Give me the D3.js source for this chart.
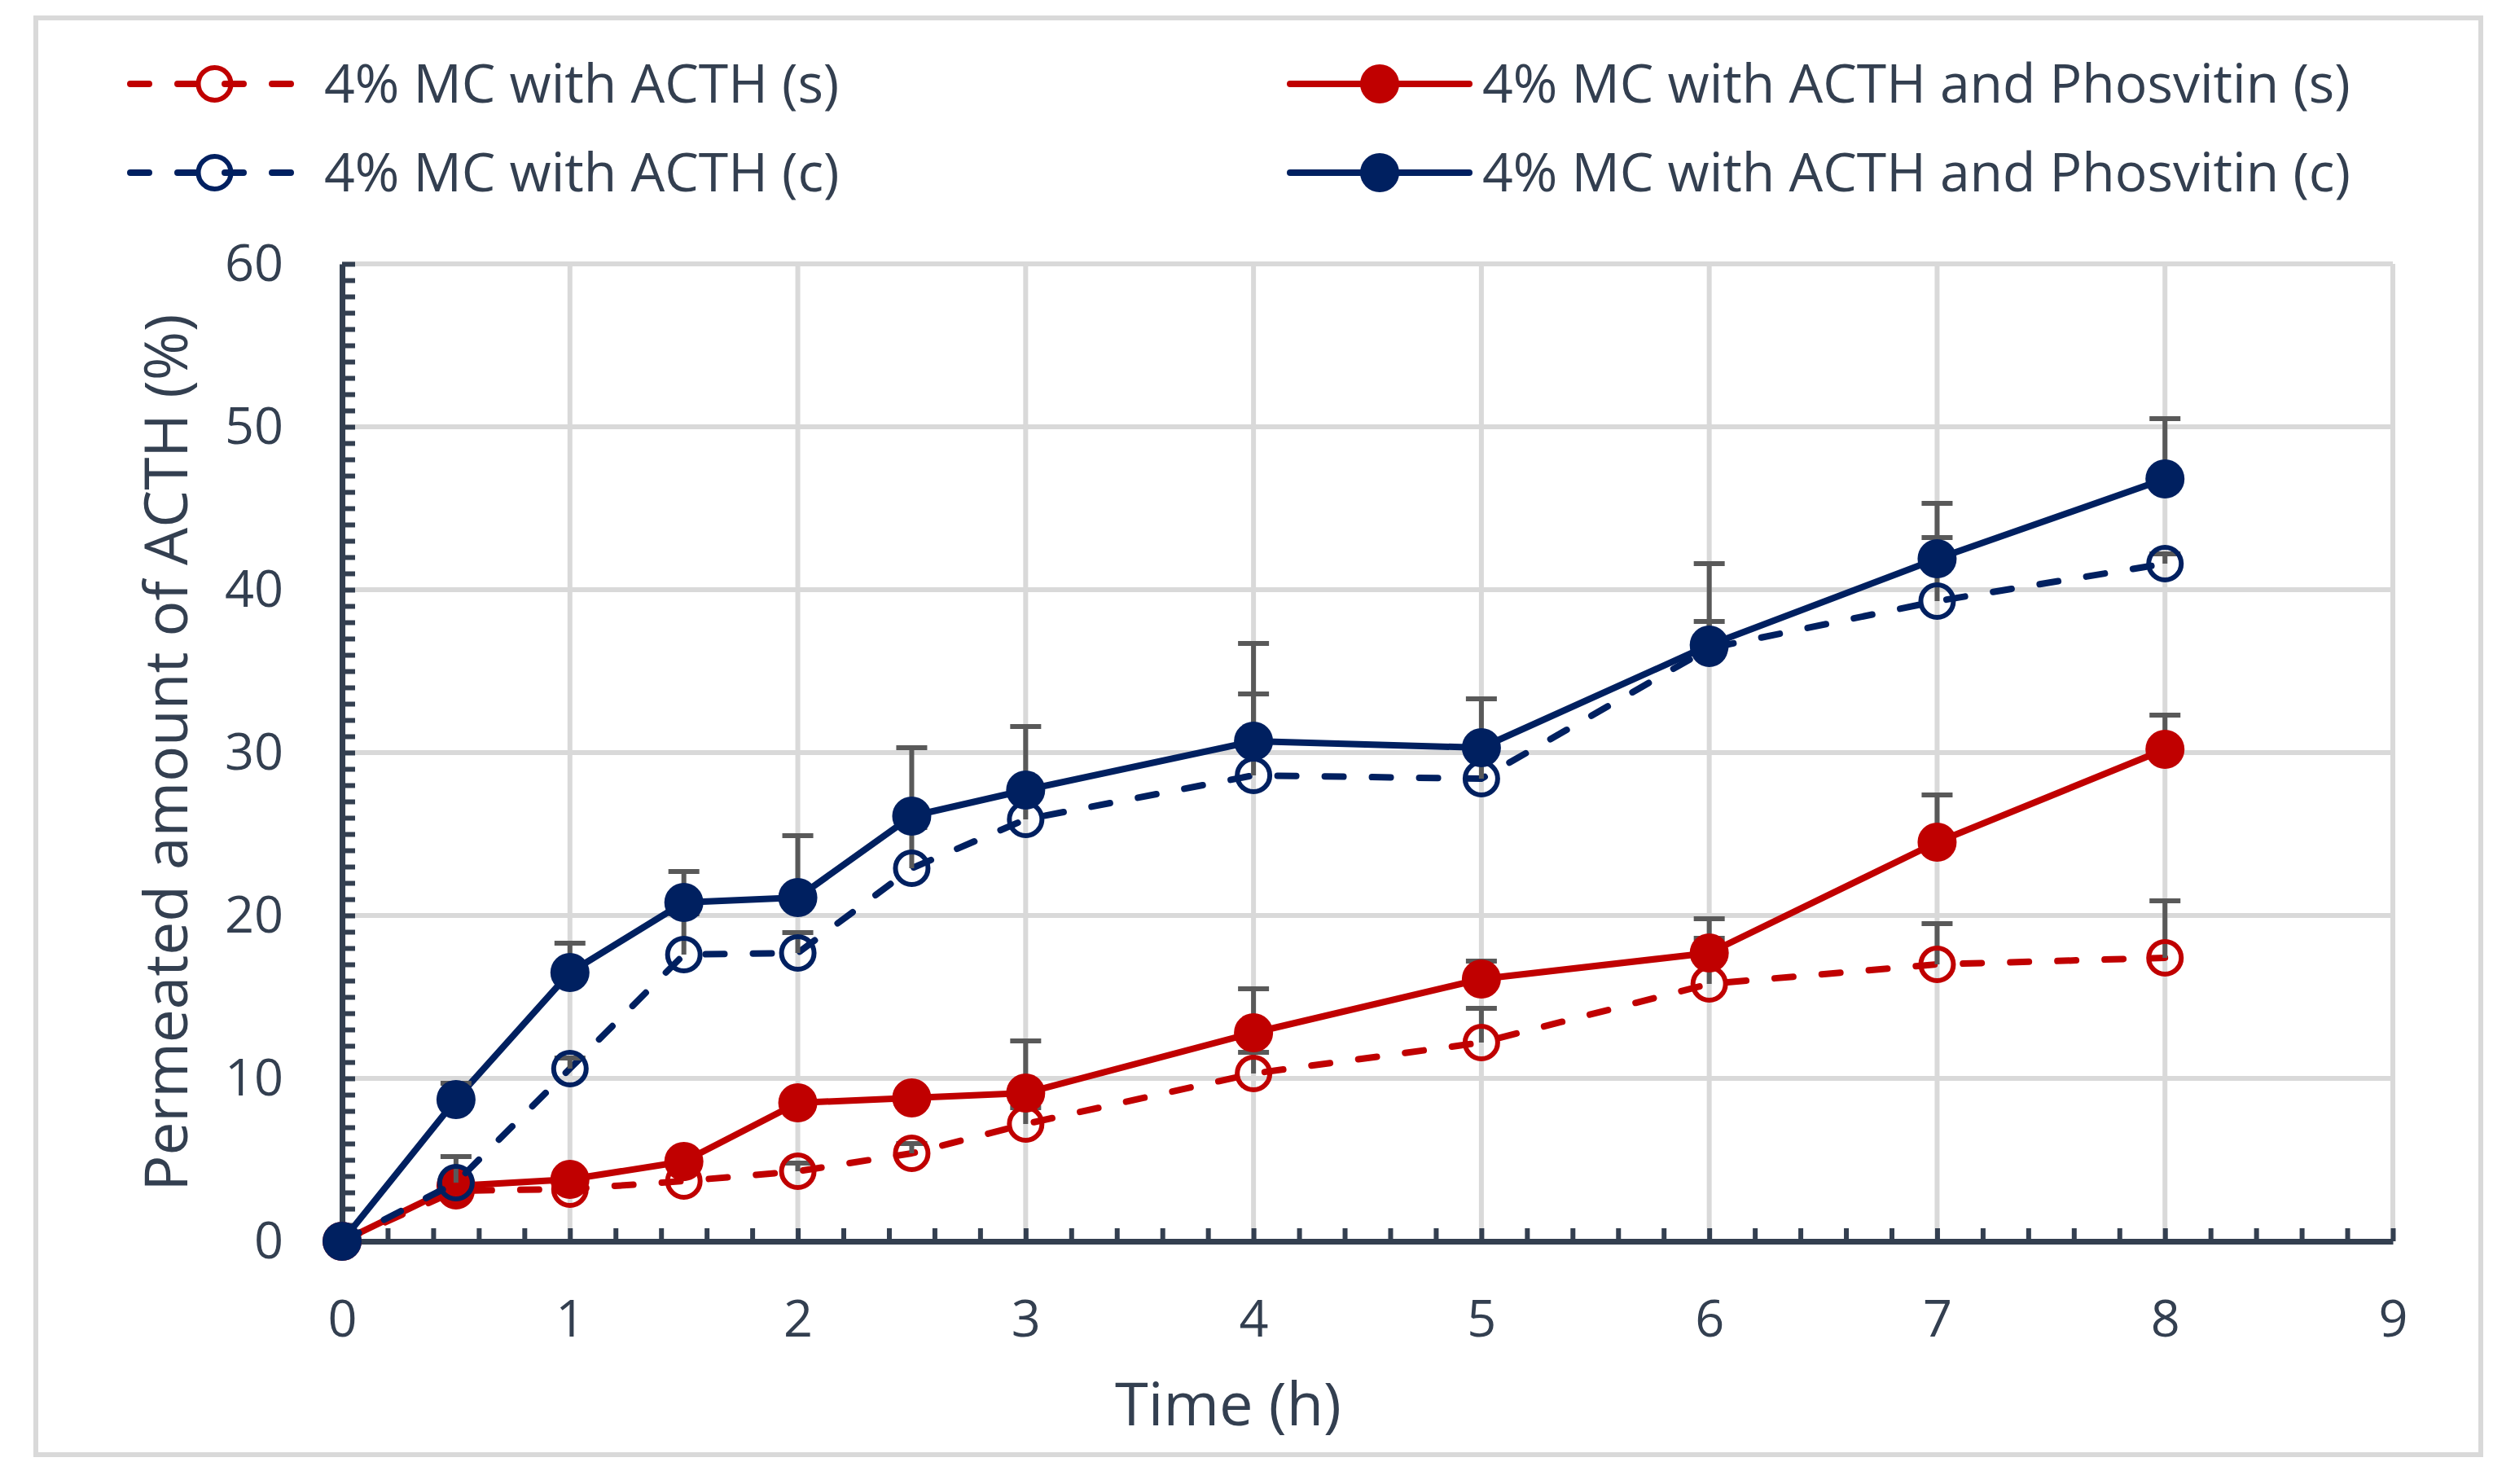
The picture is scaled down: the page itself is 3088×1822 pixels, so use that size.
<!DOCTYPE html>
<html>
<head>
<meta charset="utf-8">
<script src="https://cdn.jsdelivr.net/npm/d3@7"></script>
<style>
  body { margin: 0; background: #fff; }
  text { font-family: "Open Sans", "Noto Sans", sans-serif; fill: #333f50; }
</style>
</head>
<body>
<svg id="chart"></svg>
<script>
// time points (h)
const times = [0, 0.5, 1, 1.5, 2, 2.5, 3, 4, 5, 6, 7, 8];

// permeated amount (%) per series
const acthS = [0, 3.1, 3.2, 3.7, 4.3, 5.4, 7.2, 10.3, 12.2, 15.8, 17.0, 17.4];
const acthPhosS = [0, 3.4, 3.8, 4.9, 8.5, 8.8, 9.1, 12.8, 16.1, 17.7, 24.5, 30.2];
const acthC = [0, 3.6, 10.6, 17.6, 17.7, 22.9, 25.9, 28.6, 28.4, 36.4, 39.3, 41.6];
const acthPhosC = [0, 8.7, 16.5, 20.8, 21.1, 26.1, 27.7, 30.7, 30.3, 36.6, 41.9, 46.8];

// plus error bars
const acthSErr = [0, 0.5, 0.5, 0.5, 0.5, 0.6, 1.0, 1.3, 2.1, 2.8, 2.5, 3.5];
const acthPhosSErr = [0, 0.3, 0.3, 0.4, 0.5, 0.5, 3.2, 2.7, 1.1, 2.1, 2.9, 2.1];
const acthCErr = [0, 1.6, 0.65, 2.5, 1.25, 2.5, 1.8, 5.0, 1.5, 1.65, 3.9, 0.6];
const acthPhosCErr = [0, 1.0, 1.8, 1.9, 3.8, 4.2, 3.9, 6.0, 3.0, 5.0, 3.4, 3.7];

const seriesNames = [
  "4% MC with ACTH (s)",
  "4% MC with ACTH and Phosvitin (s)",
  "4% MC with ACTH (c)",
  "4% MC with ACTH and Phosvitin (c)"
];

const xTicks = [0, 1, 2, 3, 4, 5, 6, 7, 8, 9];
const yTicks = [0, 10, 20, 30, 40, 50, 60];

const red = "#c00000";
const navy = "#002060";
const axisColor = "#333f50";
const gridColor = "#d9d9d9";
const errColor = "#595959";

const wSvg = 3088;
const hSvg = 1822;

const series = [
  { name: seriesNames[0], values: acthS, err: acthSErr, color: red, dashed: true },
  { name: seriesNames[1], values: acthPhosS, err: acthPhosSErr, color: red, dashed: false },
  { name: seriesNames[2], values: acthC, err: acthCErr, color: navy, dashed: true },
  { name: seriesNames[3], values: acthPhosC, err: acthPhosCErr, color: navy, dashed: false }
];

const svg = d3.select("#chart")
  .attr("width", wSvg)
  .attr("height", hSvg);

// chart border
svg.append("rect")
  .attr("x", 44)
  .attr("y", 22)
  .attr("width", 3002)
  .attr("height", 1764)
  .attr("fill", "#fff")
  .attr("stroke", gridColor)
  .attr("stroke-width", 6);

const x = d3.scaleLinear()
  .domain([0, 9])
  .range([420, 2938]);

const y = d3.scaleLinear()
  .domain([0, 60])
  .range([1524, 324]);

// gridlines
svg.append("g")
  .selectAll("line")
  .data(yTicks.slice(1))
  .enter()
  .append("line")
  .attr("x1", x(0))
  .attr("x2", x(9))
  .attr("y1", d => y(d))
  .attr("y2", d => y(d))
  .attr("stroke", gridColor)
  .attr("stroke-width", 6);

svg.append("g")
  .selectAll("line")
  .data(xTicks.slice(1))
  .enter()
  .append("line")
  .attr("x1", d => x(d))
  .attr("x2", d => x(d))
  .attr("y1", y(0))
  .attr("y2", y(60))
  .attr("stroke", gridColor)
  .attr("stroke-width", 6);

// axes: minor ticks inside, labels separately
const xMinor = d3.range(0, 9.001, 0.2);
const yMinor = d3.range(0, 60.001, 1);

const xAxisG = svg.append("g")
  .attr("transform", `translate(0, ${y(0)})`)
  .call(d3.axisBottom(x).tickValues(xMinor).tickSizeInner(-16).tickSizeOuter(0).tickFormat(""));

const yAxisG = svg.append("g")
  .attr("transform", `translate(${x(0)}, 0)`)
  .call(d3.axisLeft(y).tickValues(yMinor).tickSizeInner(-16).tickSizeOuter(0).tickFormat(""));

[xAxisG, yAxisG].forEach(g => {
  g.select(".domain").attr("stroke", axisColor).attr("stroke-width", 7);
  g.selectAll(".tick line").attr("stroke", axisColor).attr("stroke-width", 6);
});

const xLab = svg.append("g")
  .attr("transform", `translate(0, ${y(0)})`)
  .call(d3.axisBottom(x).tickValues(xTicks).tickSize(0).tickPadding(72));

const yLab = svg.append("g")
  .attr("transform", `translate(${x(0)}, 0)`)
  .call(d3.axisLeft(y).tickValues(yTicks).tickSize(0).tickPadding(72));

[xLab, yLab].forEach(g => {
  g.select(".domain").remove();
  g.selectAll("text")
    .attr("font-size", 63)
    .attr("font-family", null)
    .attr("fill", axisColor);
});

// axis titles
svg.append("text")
  .attr("x", 1508)
  .attr("y", 1750)
  .attr("text-anchor", "middle")
  .attr("font-size", 74)
  .text("Time (h)");

svg.append("text")
  .attr("transform", `translate(230, ${(y(0) + y(60)) / 2}) rotate(-90)`)
  .attr("text-anchor", "middle")
  .attr("font-size", 73)
  .text("Permeated amount of ACTH (%)");

const line = d3.line()
  .x((d, i) => x(times[i]))
  .y(d => y(d));

// series: line, error bars, markers
for (let s of series) {
  let g = svg.append("g");

  g.append("path")
    .datum(s.values)
    .attr("d", line)
    .attr("fill", "none")
    .attr("stroke", s.color)
    .attr("stroke-width", 8)
    .attr("stroke-linecap", "round")
    .attr("stroke-linejoin", "round")
    .attr("stroke-dasharray", s.dashed ? "23 35" : null);

  let errData = s.values.map((v, i) => ({ t: times[i], v: v, e: s.err[i] })).filter(d => d.e > 0);

  g.selectAll(".err")
    .data(errData)
    .enter()
    .append("line")
    .attr("x1", d => x(d.t))
    .attr("x2", d => x(d.t))
    .attr("y1", d => y(d.v))
    .attr("y2", d => y(d.v + d.e))
    .attr("stroke", errColor)
    .attr("stroke-width", 6);

  g.selectAll(".cap")
    .data(errData)
    .enter()
    .append("line")
    .attr("x1", d => x(d.t) - 19)
    .attr("x2", d => x(d.t) + 19)
    .attr("y1", d => y(d.v + d.e))
    .attr("y2", d => y(d.v + d.e))
    .attr("stroke", errColor)
    .attr("stroke-width", 6);

  g.selectAll("circle")
    .data(s.values)
    .enter()
    .append("circle")
    .attr("cx", (d, i) => x(times[i]))
    .attr("cy", d => y(d))
    .attr("r", s.dashed ? 20 : 24)
    .attr("fill", s.dashed ? "none" : s.color)
    .attr("stroke", s.dashed ? s.color : "none")
    .attr("stroke-width", 6);
}

// legend
const legendPos = [
  { x1: 160, x2: 367, tx: 398, y: 103 },
  { x1: 1584, x2: 1804, tx: 1820, y: 103 },
  { x1: 160, x2: 367, tx: 398, y: 212 },
  { x1: 1584, x2: 1804, tx: 1820, y: 212 }
];

series.forEach((s, i) => {
  let p = legendPos[i];
  let g = svg.append("g");

  g.append("line")
    .attr("x1", p.x1)
    .attr("x2", p.x2)
    .attr("y1", p.y)
    .attr("y2", p.y)
    .attr("stroke", s.color)
    .attr("stroke-width", 8)
    .attr("stroke-linecap", "round")
    .attr("stroke-dasharray", s.dashed ? "23 35" : null);

  g.append("circle")
    .attr("cx", (p.x1 + p.x2) / 2)
    .attr("cy", p.y)
    .attr("r", s.dashed ? 20 : 24)
    .attr("fill", s.dashed ? "none" : s.color)
    .attr("stroke", s.dashed ? s.color : "none")
    .attr("stroke-width", 6);

  g.append("text")
    .attr("x", p.tx)
    .attr("y", p.y + 23)
    .attr("font-size", 66)
    .text(s.name);
});
</script>
</body>
</html>
